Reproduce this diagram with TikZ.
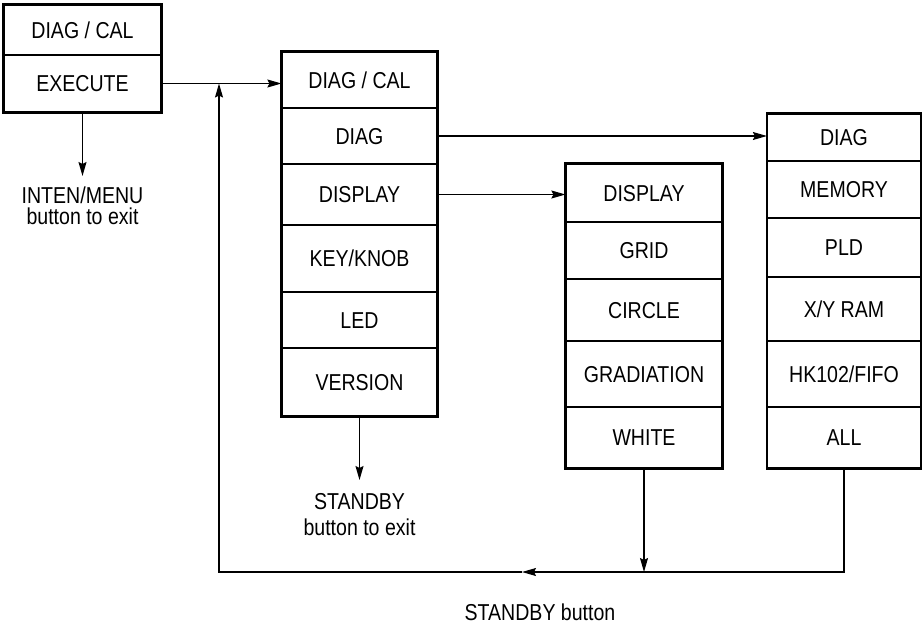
\documentclass[tikz,border=0pt]{standalone}
\usepackage{fontspec}
\setmainfont[FakeStretch=0.85]{Liberation Sans}
\usetikzlibrary{arrows.meta}
\tikzset{
  row/.style={draw, line width=1.2pt, inner sep=0pt, text height=16.5pt, text depth=0pt},
  frame/.style={draw, line width=2.7pt},
  arr/.style={line width=1.2pt, -{Stealth[length=14pt,width=8pt,inset=2pt]}},
  conn/.style={line width=1.2pt},
  lbl/.style={align=center, inner sep=0pt}
}
\begin{document}
\begin{tikzpicture}[x=1pt,y=-1pt,font=\fontsize{23pt}{27pt}\selectfont]
\useasboundingbox (0,0) rectangle (922,625);
% box 1
\node[row, minimum width=157pt, minimum height=50pt] (b1r1) at (82.5,30) {DIAG / CAL};
\node[row, minimum width=157pt, minimum height=57pt] (b1r2) at (82.5,83.5) {EXECUTE};
\draw[frame] (b1r1.north west) rectangle (b1r2.south east);
% box 2
\node[row, minimum width=155pt, minimum height=56pt] (b2r1) at (359.5,80) {DIAG / CAL};
\node[row, minimum width=155pt, minimum height=56pt] (b2r2) at (359.5,136) {DIAG};
\node[row, minimum width=155pt, minimum height=61pt] (b2r3) at (359.5,194.5) {DISPLAY};
\node[row, minimum width=155pt, minimum height=67pt] (b2r4) at (359.5,258.5) {KEY/KNOB};
\node[row, minimum width=155pt, minimum height=56pt] (b2r5) at (359.5,320) {LED};
\node[row, minimum width=155pt, minimum height=68pt] (b2r6) at (359.5,382) {VERSION};
\draw[frame] (b2r1.north west) rectangle (b2r6.south east);
% box 3
\node[row, minimum width=156pt, minimum height=58pt] (b3r1) at (644,193) {DISPLAY};
\node[row, minimum width=156pt, minimum height=57pt] (b3r2) at (644,250.5) {GRID};
\node[row, minimum width=156pt, minimum height=62pt] (b3r3) at (644,310) {CIRCLE};
\node[row, minimum width=156pt, minimum height=66pt] (b3r4) at (644,374) {GRADIATION};
\node[row, minimum width=156pt, minimum height=61pt] (b3r5) at (644,437.5) {WHITE};
\draw[frame] (b3r1.north west) rectangle (b3r5.south east);
% box 4
\node[row, minimum width=153pt, minimum height=47pt] (b4r1) at (844,137.5) {DIAG};
\node[row, minimum width=153pt, minimum height=57pt] (b4r2) at (844,189.5) {MEMORY};
\node[row, minimum width=153pt, minimum height=59pt] (b4r3) at (844,247.5) {PLD};
\node[row, minimum width=153pt, minimum height=64pt] (b4r4) at (844,309) {X/Y RAM};
\node[row, minimum width=153pt, minimum height=66pt] (b4r5) at (844,374) {HK102/FIFO};
\node[row, minimum width=153pt, minimum height=61pt] (b4r6) at (844,437.5) {ALL};
\draw[frame] (b4r1.north west) rectangle (b4r6.south east);
% labels
\node[lbl, anchor=north, outer ysep=11pt, font=\fontsize{23pt}{21pt}\selectfont] (t1) at (82.5,176) {INTEN/MENU\\button to exit};
\node[lbl, anchor=north, outer ysep=13pt, font=\fontsize{23pt}{26pt}\selectfont] (t2) at (359.5,480) {STANDBY\\button to exit};
\node[lbl, anchor=base] (t3) at (540,620) {STANDBY button};
% connectors
\draw[arr] (b1r2.south) -- (t1.north);
\draw[arr] (b2r6.south) -- (t2.north);
\draw[arr] (b1r2.east) -- (b1r2.east -| b2r1.west);
\draw[arr] (b2r2.east) -- (b2r2.east -| b4r1.west);
\draw[arr] (b2r3.east) -- (b2r3.east -| b3r1.west);
\coordinate (bl) at (219,572);
\coordinate (j3) at (b3r5.south |- bl);
\coordinate (j4) at (b4r6.south |- bl);
\coordinate (mid) at (522,572);
\draw[arr] (b3r5.south) -- (j3);
\draw[arr] (b4r6.south) -- (j4) -- (mid);
\draw[arr] (mid) -- (bl) -- (bl |- b1r2.east);
\end{tikzpicture}
\end{document}
